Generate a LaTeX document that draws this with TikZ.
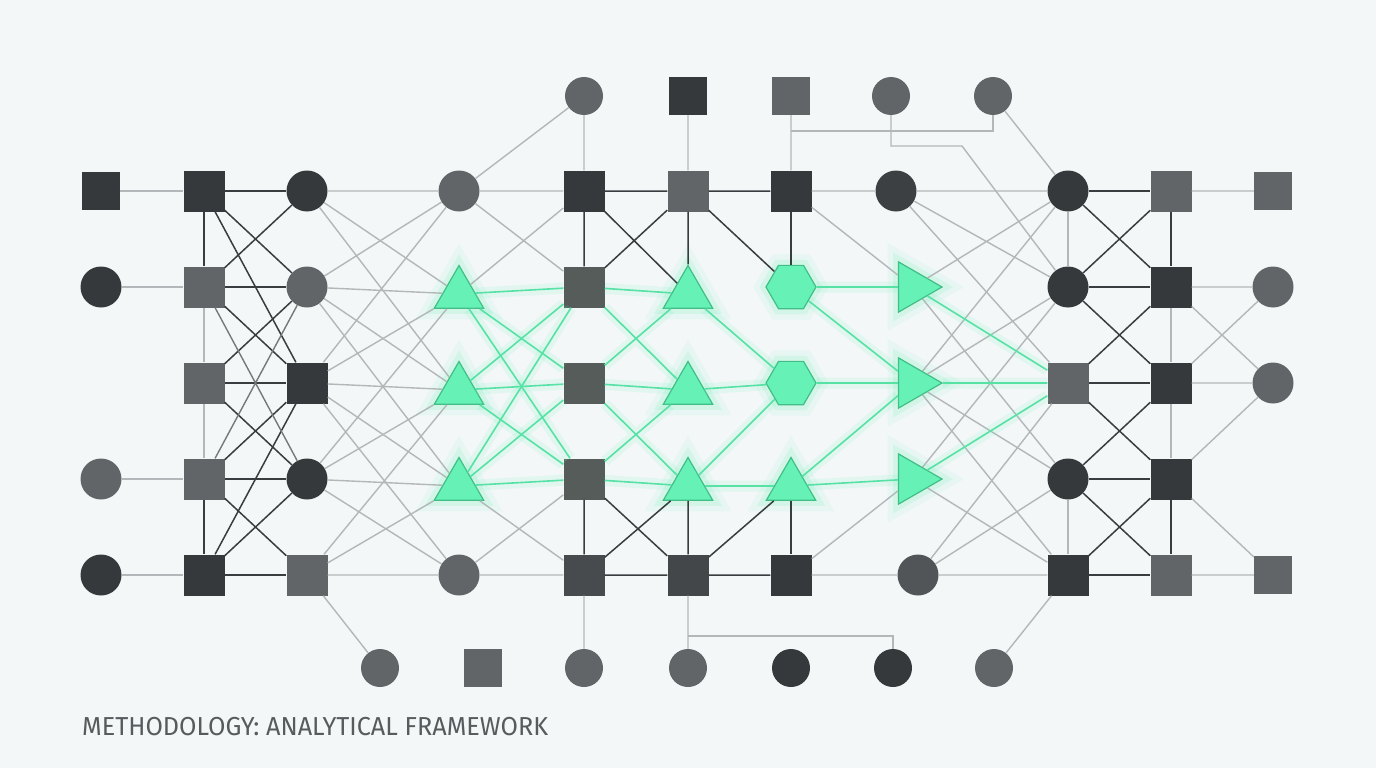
\documentclass[tikz,border=0pt]{standalone}
\usepackage{fontspec}
\newfontfamily\titlefont{Fira Sans}
\usetikzlibrary{shapes.geometric, positioning}
\definecolor{bgc}{RGB}{243,247,248}
\definecolor{nodedark}{RGB}{54,57,60}
\definecolor{nodemid}{RGB}{98,101,104}
\definecolor{nodedim}{RGB}{72,75,78}
\definecolor{nodetint}{RGB}{86,92,90}
\definecolor{edgelight}{RGB}{180,183,185}
\definecolor{edgedark}{RGB}{58,61,64}
\definecolor{edgemid}{RGB}{118,121,124}
\definecolor{mint}{RGB}{102,242,182}
\definecolor{mintdark}{RGB}{64,190,134}
\definecolor{mintline}{RGB}{86,226,164}
\definecolor{titlec}{RGB}{88,91,94}
\tikzstyle{dsq}=[rectangle,fill=nodedark,minimum size=41pt,inner sep=0pt]
\tikzstyle{msq}=[rectangle,fill=nodemid,minimum size=41pt,inner sep=0pt]
\tikzstyle{dci}=[circle,fill=nodedark,minimum size=41pt,inner sep=0pt]
\tikzstyle{mci}=[circle,fill=nodemid,minimum size=41pt,inner sep=0pt]
\tikzstyle{small}=[minimum size=38pt]
\tikzstyle{glow}=[preaction={draw=mint,line width=22pt,opacity=0.08},preaction={draw=mint,line width=11pt,opacity=0.16}]
\tikzstyle{tri}=[regular polygon,regular polygon sides=3,minimum size=57pt,inner sep=0pt,fill=mint,draw=mintdark,line width=1.2pt,glow]
\tikzstyle{trir}=[tri,shape border rotate=-90,minimum size=58pt]
\tikzstyle{hexa}=[regular polygon,regular polygon sides=6,minimum size=50pt,inner sep=0pt,fill=mint,draw=mintdark,line width=1.2pt,glow]
\tikzstyle{lt}=[draw=edgelight,line width=1.4pt]
\tikzstyle{md}=[draw=edgemid,line width=1.4pt]
\tikzstyle{dk}=[draw=edgedark,line width=1.5pt]
\tikzstyle{gr}=[draw=mintline,line width=1.6pt,preaction={draw=mint,line width=11pt,opacity=0.12}]

\begin{document}
\begin{tikzpicture}[x=1pt,y=-1pt,node distance=96pt]
    \fill[bgc] (0,0) rectangle (1376,768);
    \useasboundingbox (0,0) rectangle (1376,768);

    \node[dsq,small] (a0) at (101,191) {};
    \node[dci,below of=a0] (a1) {};
    \node[mci,below of=a1,node distance=192pt] (a3) {};
    \node[dci,below of=a3] (a4) {};

    \node[dsq] (b0) at (204,191) {};
    \node[msq,below of=b0] (b1) {};
    \node[msq,below of=b1] (b2) {};
    \node[msq,below of=b2] (b3) {};
    \node[dsq,below of=b3] (b4) {};

    \node[dci] (c0) at (307,191) {};
    \node[mci,below of=c0] (c1) {};
    \node[dsq,below of=c1] (c2) {};
    \node[dci,below of=c2] (c3) {};
    \node[msq,below of=c3] (c4) {};

    \node[mci] (d0) at (459,191) {};
    \node[tri] (d1) at (459,294) {};
    \node[tri] (d2) at (459,390) {};
    \node[tri] (d3) at (459,486) {};
    \node[mci,below of=d0,node distance=384pt] (d4) {};

    \node[dsq] (e0) at (584,191) {};
    \node[dsq,fill=nodetint,below of=e0] (e1) {};
    \node[dsq,fill=nodetint,below of=e1] (e2) {};
    \node[dsq,fill=nodetint,below of=e2] (e3) {};
    \node[dsq,fill=nodedim,below of=e3] (e4) {};

    \node[msq] (f0) at (688,191) {};
    \node[tri] (f1) at (688,294) {};
    \node[tri] (f2) at (688,390) {};
    \node[tri] (f3) at (688,486) {};
    \node[dsq,fill=nodedim!80!nodedark,below of=f0,node distance=384pt] (f4) {};

    \node[dsq] (g0) at (791,191) {};
    \node[hexa,below of=g0] (g1) {};
    \node[hexa,below of=g1] (g2) {};
    \node[tri] (g3) at (791,486) {};
    \node[dsq,below of=g0,node distance=384pt] (g4) {};

    \node[dci,fill=nodedark!85!nodemid] (h0) at (896,191) {};
    \node[trir] (h1) at (913,287) {};
    \node[trir,below of=h1] (h2) {};
    \node[trir,below of=h2] (h3) {};
    \node[mci,fill=nodedim!60!nodemid] (h4) at (918,575) {};

    \node[dci] (i0) at (1068,191) {};
    \node[dci,below of=i0] (i1) {};
    \node[msq,below of=i1] (i2) {};
    \node[dci,below of=i2] (i3) {};
    \node[dsq,below of=i3] (i4) {};

    \node[msq] (j0) at (1171,191) {};
    \node[dsq,below of=j0] (j1) {};
    \node[dsq,below of=j1] (j2) {};
    \node[dsq,below of=j2] (j3) {};
    \node[msq,below of=j3] (j4) {};

    \node[msq,small] (k0) at (1273,191) {};
    \node[mci,below of=k0] (k1) {};
    \node[mci,below of=k1] (k2) {};
    \node[msq,small,below of=k2,node distance=192pt] (k4) {};

    \node[mci,small,above of=e0,node distance=95pt] (t0) {};
    \node[dsq,small,above of=f0,node distance=95pt] (t1) {};
    \node[msq,small,above of=g0,node distance=95pt] (t2) {};
    \node[mci,small,right of=t2,node distance=100pt] (t3) {};
    \node[mci,small,right of=t3,node distance=102pt] (t4) {};

    \node[mci,small,below of=e4,node distance=93pt] (u2) {};
    \node[msq,small,left of=u2,node distance=101pt] (u1) {};
    \node[mci,small,left of=u1,node distance=103pt] (u0) {};
    \node[mci,small,below of=f4,node distance=93pt] (u3) {};
    \node[dci,small,below of=g4,node distance=93pt] (u4) {};
    \node[dci,small,right of=u4,node distance=102pt] (u5) {};
    \node[mci,small,right of=u5,node distance=101pt] (u6) {};

    \coordinate (p1) at (791,131);
    \coordinate (p2) at (962,146);
    \coordinate (p3) at (688,636);

    \draw[lt] (a0) -- (b0) (a1) -- (b1) (a3) -- (b3) (a4) -- (b4);
    \draw[dk] (b0) -- (b1) (b3) -- (b4);
    \draw[lt] (b1) -- (b2) (b2) -- (b3);
    \draw[dk] (b0) -- (c0) (b1) -- (c1) (b2) -- (c2) (b3) -- (c3) (b4) -- (c4);
    \draw[dk] (b0) -- (c1) (b0) -- (c2) (b1) -- (c0) (b1) -- (c2) (b2) -- (c1) (b2) -- (c3);
    \draw[dk] (b3) -- (c2) (b3) -- (c4) (b4) -- (c2) (b4) -- (c3);
    \draw[md] (b1) -- (c3) (b3) -- (c1);

    \draw[lt] (c0) -- (d0) (c0) -- (d1) (c0) -- (d2);
    \draw[lt] (c1) -- (d0) (c1) -- (d1) (c1) -- (d2) (c1) -- (d3);
    \draw[lt] (c2) -- (d0) (c2) -- (d1) (c2) -- (d2) (c2) -- (d3) (c2) -- (d4);
    \draw[lt] (c3) -- (d1) (c3) -- (d2) (c3) -- (d3) (c3) -- (d4);
    \draw[lt] (c4) -- (d2) (c4) -- (d3) (c4) -- (d4);

    \draw[lt] (d0) -- (e0) (d0) -- (e1) (d1) -- (e0) (d3) -- (e4) (d4) -- (e3) (d4) -- (e4);
    \draw[gr] (d1) -- (e1) (d1) -- (e2) (d1) -- (e3);
    \draw[gr] (d2) -- (e1) (d2) -- (e2) (d2) -- (e3);
    \draw[gr] (d3) -- (e1) (d3) -- (e2) (d3) -- (e3);

    \draw[dk] (e0) -- (e1) (e3) -- (e4) (e0) -- (f0) (e0) -- (f1) (f0) -- (e1);
    \draw[dk] (e3) -- (f4) (e4) -- (f3) (e4) -- (f4);
    \draw[gr] (e1) -- (f1) (e1) -- (f2) (e2) -- (f1) (e2) -- (f2) (e2) -- (f3) (e3) -- (f2) (e3) -- (f3);

    \draw[dk] (f0) -- (f1) (f3) -- (f4) (f0) -- (g0) (f0) -- (g1) (f4) -- (g3) (f4) -- (g4);
    \draw[gr] (f1) -- (g2) (f2) -- (g2) (f3) -- (g2) (f3) -- (g3);

    \draw[dk] (g0) -- (g1) (g3) -- (g4);
    \draw[lt] (g0) -- (h0) (g0) -- (h1) (g4) -- (h3) (g4) -- (h4);
    \draw[gr] (g1) -- (h1) (g1) -- (h2) (g2) -- (h2) (g3) -- (h2) (g3) -- (h3);

    \draw[lt] (h0) -- (i0) (h0) -- (i1) (h0) -- (i2) (h1) -- (i0) (h1) -- (i3);
    \draw[lt] (h2) -- (i0) (h2) -- (i1) (h2) -- (i3) (h2) -- (i4) (h3) -- (i1) (h3) -- (i4);
    \draw[lt] (h4) -- (i2) (h4) -- (i3) (h4) -- (i4);
    \draw[gr] (h1) -- (i2) (h2) -- (i2) (h3) -- (i2);

    \draw[lt] (i0) -- (i1) (i3) -- (i4);
    \draw[dk] (i0) -- (j0) (i1) -- (j1) (i2) -- (j2) (i3) -- (j3) (i4) -- (j4);
    \draw[dk] (i0) -- (j1) (i1) -- (j0) (i1) -- (j2) (i2) -- (j1) (i2) -- (j3) (i3) -- (j2) (i3) -- (j4) (i4) -- (j3);
    \draw[dk] (j0) -- (j1) (j3) -- (j4);
    \draw[lt] (j1) -- (j2) (j2) -- (j3);
    \draw[lt] (j0) -- (k0) (j1) -- (k1) (j1) -- (k2) (j2) -- (k1) (j2) -- (k2) (j3) -- (k2) (j3) -- (k4) (j4) -- (k4);

    \draw[lt] (t0) -- (d0) (t0) -- (e0) (t1) -- (f0) (t2) -- (g0) (t4) -- (i0);
    \draw[lt] (p1) -| (t4);
    \draw[lt] (t3) |- (p2) -- (i1);
    \draw[lt] (c4) -- (u0) (e4) -- (u2) (f4) -- (u3) (i4) -- (u6);
    \draw[lt] (p3) -| (u5);

    \node[anchor=base west,text=titlec,inner sep=0pt,font=\titlefont\fontsize{26}{26}\selectfont] (title) at (82,735) {\scalebox{0.97}[1]{METHODOLOGY: ANALYTICAL FRAMEWORK}};
\end{tikzpicture}
\end{document}
